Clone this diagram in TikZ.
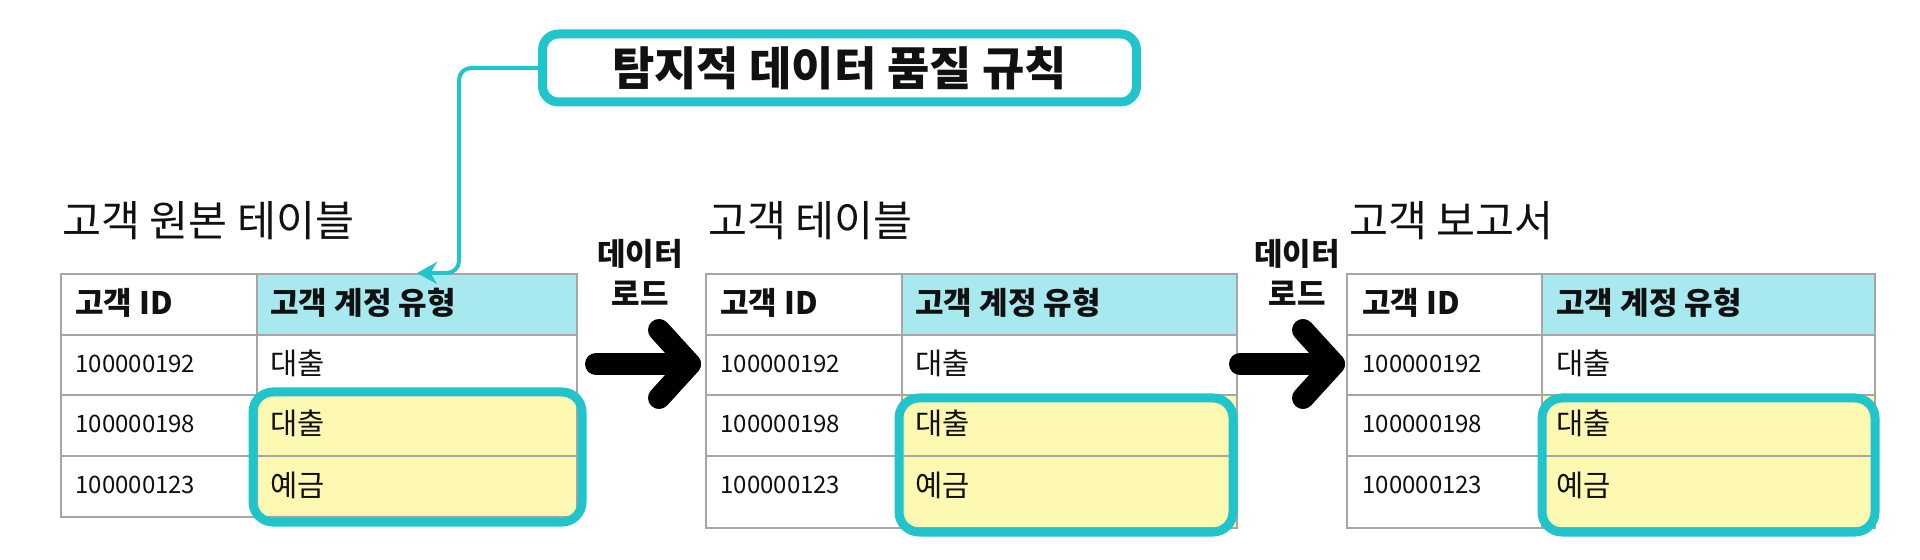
\documentclass[tikz,border=0pt]{standalone}
\usepackage{fontspec}
\setmainfont{Noto Sans CJK KR}
\usetikzlibrary{arrows.meta,calc}
\definecolor{tealc}{HTML}{20C4CB}
\definecolor{hdrc}{HTML}{A7E9EE}
\definecolor{yelc}{HTML}{FDF8B2}
\definecolor{gridc}{HTML}{A6A6A6}
\definecolor{inkc}{HTML}{111111}
\newcommand\tcell[6]{\node[cellst, fill=#6, minimum width=#4*0.5pt, minimum height=#5*0.5pt] (#1) at ({#2+#4/2},{#3+#5/2}) {};}
\begin{document}
\begin{tikzpicture}[x=0.5pt,y=-0.5pt,
  cellst/.style={rectangle, draw=gridc, line width=1pt, inner sep=0pt},
  hdrtxt/.style={anchor=base west, inner sep=0pt, text=inkc, font=\fontsize{15.5}{18}\selectfont\bfseries},
  numtxt/.style={anchor=base west, inner sep=0pt, text=inkc, font=\fontsize{12}{14}\selectfont},
  kortxt/.style={anchor=base west, inner sep=0pt, text=inkc, font=\fontsize{14.8}{17}\selectfont},
  ttltxt/.style={anchor=base west, inner sep=0pt, text=inkc, font=\fontsize{21.2}{25}\selectfont},
  loadtxt/.style={align=center, inner sep=0pt, text=inkc, font=\fontsize{15.5}{20}\selectfont\bfseries},
  hilite/.style={draw=tealc, line width=4.5pt, rounded corners=10pt},
  bigarr/.style={line width=11pt, line cap=round, line join=round, draw=black},
  rulebox/.style={draw=tealc, line width=4.5pt, rounded corners=8pt, fill=white, minimum width=297pt, minimum height=34pt, inner sep=0pt, font=\fontsize{23}{27}\selectfont\bfseries, text=inkc},
  link/.style={draw=tealc, line width=2pt, rounded corners=6pt, -{Stealth[length=10pt,width=11pt]}}
]
\useasboundingbox (0,0) rectangle (1920,560);
\fill[white] (0,0) rectangle (1920,560);

% ---------- table 1 ----------
\tcell{aHa}{61}{274}{196}{61}{white}
\tcell{aHb}{257}{274}{320}{61}{hdrc}
\tcell{aAa}{61}{335}{196}{60}{white}
\tcell{aAb}{257}{335}{320}{60}{white}
\tcell{aBa}{61}{395}{196}{61}{white}
\tcell{aBb}{257}{395}{320}{61}{yelc}
\tcell{aCa}{61}{456}{196}{61}{white}
\tcell{aCb}{257}{456}{320}{61}{yelc}
% ---------- table 2 ----------
\tcell{bHa}{706}{274}{196}{61}{white}
\tcell{bHb}{902}{274}{335}{61}{hdrc}
\tcell{bAa}{706}{335}{196}{60}{white}
\tcell{bAb}{902}{335}{335}{60}{white}
\tcell{bBa}{706}{395}{196}{61}{white}
\tcell{bBb}{902}{395}{335}{61}{yelc}
\tcell{bCa}{706}{456}{196}{72}{white}
\tcell{bCb}{902}{456}{335}{72}{yelc}
% ---------- table 3 ----------
\tcell{cHa}{1347}{274}{195}{61}{white}
\tcell{cHb}{1542}{274}{333}{61}{hdrc}
\tcell{cAa}{1347}{335}{195}{60}{white}
\tcell{cAb}{1542}{335}{333}{60}{white}
\tcell{cBa}{1347}{395}{195}{61}{white}
\tcell{cBb}{1542}{395}{333}{61}{yelc}
\tcell{cCa}{1347}{456}{195}{72}{white}
\tcell{cCb}{1542}{456}{333}{72}{yelc}

% ---------- highlight boxes ----------
\draw[hilite] (253,392) rectangle (582,522);
\draw[hilite] (899,398) rectangle (1233,532);
\draw[hilite] (1542,398) rectangle (1875,532);

% ---------- table titles ----------
\node[ttltxt] (ttlA) at (62,237) {고객 원본 테이블};
\node[ttltxt] (ttlB) at (708,237) {고객 테이블};
\node[ttltxt] (ttlC) at (1349,237) {고객 보고서};

% ---------- table texts ----------
\foreach \p/\xa/\xb in {a/75/270, b/720/915, c/1362/1556}{
  \node[hdrtxt] (\p ha) at (\xa,315) {고객 ID};
  \node[hdrtxt] (\p hb) at (\xb,315) {고객 계정 유형};
  \node[numtxt] (\p na) at (\xa,373) {100000192};
  \node[kortxt] (\p ka) at (\xb,375) {대출};
  \node[numtxt] (\p nb) at (\xa,433) {100000198};
  \node[kortxt] (\p kb) at (\xb,435) {대출};
  \node[numtxt] (\p nc) at (\xa,494) {100000123};
  \node[kortxt] (\p kc) at (\xb,496) {예금};
}

% ---------- data load labels and arrows ----------
\node[loadtxt] (loadA) at (640,272) {데이터\\로드};
\node[loadtxt] (loadB) at (1297,272) {데이터\\로드};
\coordinate (a1s) at (596,364);
\coordinate (a1e) at (690,364);
\coordinate (a2s) at (1240,364);
\coordinate (a2e) at (1334,364);
\draw[bigarr] (a1s) -- (a1e);
\draw[bigarr] ($(a1e)+(-31,-34)$) -- (a1e) -- ($(a1e)+(-31,34)$);
\draw[bigarr] (a2s) -- (a2e);
\draw[bigarr] ($(a2e)+(-31,-34)$) -- (a2e) -- ($(a2e)+(-31,34)$);

% ---------- rule box and link ----------
\node[rulebox] (rule) at (839.5,68) {탐지적 데이터 품질 규칙};
\coordinate (ltip) at (417,273);
\draw[link] (rule.west) -- (459,68) -- (459,273) -- (ltip);
\end{tikzpicture}
\end{document}
